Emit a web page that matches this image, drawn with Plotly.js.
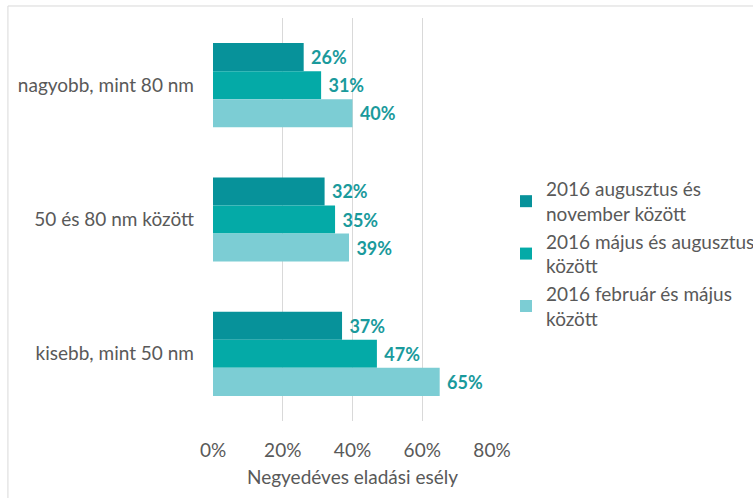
<!DOCTYPE html>
<html>
<head>
<meta charset="utf-8">
<script src="https://cdn.plot.ly/plotly-3.0.1.min.js"></script>
<style>html,body{margin:0;padding:0;background:#fff;}#chart{width:753px;height:498px;}</style>
</head>
<body>
<div id="chart"></div>
<script>
const categories = ["nagyobb, mint 80 nm", "50 és 80 nm között", "kisebb, mint 50 nm"];
const seriesNames = ["2016 augusztus és<br>november között", "2016 május és augusztus<br>között", "2016 február és május<br>között"];
const augNov = [26, 32, 37];
const majAug = [31, 35, 47];
const febMaj = [40, 39, 65];
const xTicks = [0, 20, 40, 60, 80];
const xTickText = ["0%", "20%", "40%", "60%", "80%"];

const colors = ["#07929a", "#04aaa7", "#7ccdd4"];
const labelColor = "#1a9a9c";
const series = [augNov, majAug, febMaj];

const traces = series.map((vals, i) => ({
  type: "bar",
  orientation: "h",
  name: seriesNames[i],
  y: categories,
  x: vals,
  marker: {color: colors[i]},
  text: vals.map(v => " " + v + "%"),
  textposition: "outside",
  textfont: {family: "Lato, sans-serif", size: 18, color: labelColor, weight: "bold"},
  cliponaxis: false,
  hoverinfo: "none"
}));

const layout = {
  width: 753, height: 498,
  margin: {l: 213, r: 261, t: 18, b: 77},
  paper_bgcolor: "#fff", plot_bgcolor: "#fff",
  font: {family: "Lato, sans-serif", size: 19, color: "#595959"},
  barmode: "group",
  bargap: 0.373,
  bargroupgap: 0,
  xaxis: {
    range: [0, 80],
    tickmode: "array",
    tickvals: xTicks,
    ticktext: xTickText,
    showgrid: true, gridcolor: "#d9d9d9", gridwidth: 1,
    zeroline: false, showline: false,
    ticks: "", ticklen: 0,
    ticklabelstandoff: 16,
    tickfont: {size: 19, color: "#595959"},
    title: {text: "Negyedéves eladási esély", font: {size: 19, color: "#595959"}, standoff: 10}
  },
  yaxis: {
    autorange: "reversed",
    showgrid: false, zeroline: false, showline: false,
    ticks: "", ticklen: 0,
    ticklabelstandoff: 18,
    tickfont: {size: 19, color: "#595959"}
  },
  legend: {
    xref: "container", yref: "container",
    x: 0.672, y: 0.49, xanchor: "left", yanchor: "middle",
    font: {size: 19, color: "#595959"},
    traceorder: "normal",
    itemwidth: 30
  },
  shapes: [{
    type: "rect", xref: "paper", yref: "paper",
    x0: -0.735, x1: 2, y0: -1, y1: 1.0298,
    line: {color: "#d9d9d9", width: 1}, fillcolor: "rgba(0,0,0,0)", layer: "below"
  }],
  showlegend: true
};

Plotly.newPlot("chart", traces, layout, {displayModeBar: false, staticPlot: true});
</script>
</body>
</html>
